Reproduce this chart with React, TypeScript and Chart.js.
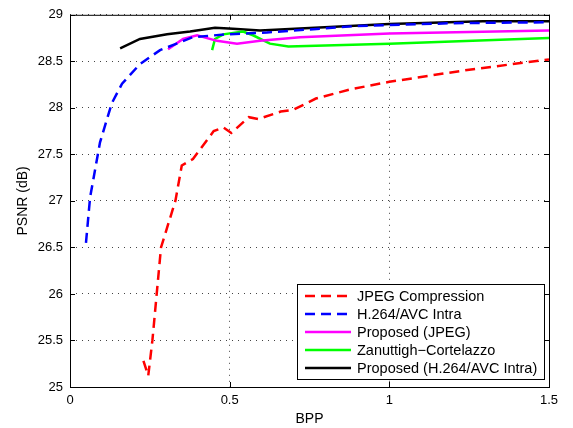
import React, { useEffect, useRef } from "react";
import { Chart, registerables } from "chart.js";
Chart.register(...registerables);

const jpegX = [0.23, 0.245, 0.258, 0.285, 0.33, 0.35, 0.385, 0.45, 0.48, 0.505, 0.56, 0.59, 0.66, 0.7, 0.77, 0.88, 1.0, 1.25, 1.5];
const jpegY = [25.28, 25.12, 25.5, 26.5, 27.0, 27.38, 27.45, 27.75, 27.79, 27.73, 27.9, 27.88, 27.96, 27.98, 28.1, 28.2, 28.28, 28.41, 28.52];

const h264X = [0.05, 0.063, 0.094, 0.131, 0.163, 0.219, 0.282, 0.385, 0.49, 0.617, 0.9, 1.2, 1.5];
const h264Y = [26.55, 27.04, 27.63, 28.05, 28.26, 28.47, 28.62, 28.76, 28.79, 28.81, 28.88, 28.91, 28.92];

const propJpegX = [0.307, 0.354, 0.398, 0.46, 0.523, 0.595, 0.72, 1.0, 1.5];
const propJpegY = [28.63, 28.74, 28.78, 28.72, 28.69, 28.72, 28.76, 28.8, 28.83];

const zanX = [0.445, 0.454, 0.48, 0.542, 0.573, 0.626, 0.684, 1.0, 1.5];
const zanY = [28.62, 28.74, 28.79, 28.82, 28.78, 28.69, 28.66, 28.69, 28.75];

const propH264X = [0.157, 0.219, 0.304, 0.376, 0.454, 0.51, 0.595, 1.0, 1.293, 1.5];
const propH264Y = [28.64, 28.74, 28.79, 28.82, 28.86, 28.85, 28.83, 28.9, 28.93, 28.93];

const xTicks = [0, 0.5, 1, 1.5];
const yTicks = [25, 25.5, 26, 26.5, 27, 27.5, 28, 28.5, 29];

const toPts = (xs: number[], ys: number[]) => xs.map((x, i) => ({ x, y: ys[i] }));

const FONT = "'Liberation Sans', Arial, Helvetica, sans-serif";

const boxPlugin = {
  id: "boxPlugin",
  afterDatasetsDraw(chart: any) {
    const { ctx, chartArea: a, scales } = chart;
    ctx.save();
    ctx.strokeStyle = "#000";
    ctx.lineWidth = 1;
    ctx.setLineDash([]);
    ctx.strokeRect(a.left + 0.5, a.top + 0.5, a.right - a.left, a.bottom - a.top);
    const tl = 5;
    ctx.beginPath();
    for (const v of xTicks) {
      const px = Math.round(scales.x.getPixelForValue(v)) + 0.5;
      ctx.moveTo(px, a.bottom);
      ctx.lineTo(px, a.bottom - tl);
      ctx.moveTo(px, a.top);
      ctx.lineTo(px, a.top + tl);
    }
    for (const v of yTicks) {
      const py = Math.round(scales.y.getPixelForValue(v)) + 0.5;
      ctx.moveTo(a.left, py);
      ctx.lineTo(a.left + tl, py);
      ctx.moveTo(a.right, py);
      ctx.lineTo(a.right - tl, py);
    }
    ctx.stroke();

    const lx = 297, ly = 284, lw = 247, lh = 95;
    ctx.fillStyle = "#fff";
    ctx.fillRect(lx, ly, lw, lh);
    ctx.strokeRect(lx + 0.5, ly + 0.5, lw, lh);
    ctx.font = `14.5px ${FONT}`;
    ctx.textBaseline = "middle";
    ctx.textAlign = "left";
    chart.data.datasets.forEach((ds: any, i: number) => {
      const y = ly + 12 + i * 18;
      ctx.strokeStyle = ds.borderColor;
      ctx.lineWidth = 2.5;
      ctx.setLineDash(ds.borderDash || []);
      ctx.beginPath();
      ctx.moveTo(305, y);
      ctx.lineTo(351, y);
      ctx.stroke();
      ctx.setLineDash([]);
      ctx.fillStyle = "#000";
      ctx.fillText(ds.label, 357, y + 1);
    });
    ctx.restore();
  },
};

export default function App() {
  const ref = useRef<HTMLCanvasElement>(null);
  useEffect(() => {
    document.body.style.margin = "0";
    const mk = (label: string, xs: number[], ys: number[], color: string, dash?: number[]) => ({
      label,
      data: toPts(xs, ys),
      borderColor: color,
      backgroundColor: color,
      borderWidth: 2.5,
      borderDash: dash || [],
      pointRadius: 0,
      tension: 0,
      fill: false,
    });
    const chart = new Chart(ref.current!, {
      type: "line",
      data: {
        datasets: [
          mk("JPEG Compression", jpegX, jpegY, "#ff0000", [10, 6]),
          mk("H.264/AVC Intra", h264X, h264Y, "#0000ff", [10, 6]),
          mk("Proposed (JPEG)", propJpegX, propJpegY, "#ff00ff"),
          mk("Zanuttigh\u2212Cortelazzo", zanX, zanY, "#00ff00"),
          mk("Proposed (H.264/AVC Intra)", propH264X, propH264Y, "#000000"),
        ],
      },
      options: {
        animation: false,
        responsive: false,
        events: [],
        layout: { padding: { left: 0, top: 6, right: 24, bottom: 0 } },
        plugins: { legend: { display: false }, tooltip: { enabled: false } },
        scales: {
          x: {
            type: "linear",
            min: 0,
            max: 1.5,
            afterBuildTicks: (s: any) => { s.ticks = xTicks.map((v) => ({ value: v })); },
            afterFit: (s: any) => { s.height = 41; },
            ticks: { color: "#000", font: { size: 13, family: FONT }, padding: 6, maxRotation: 0, callback: (v: any) => String(v) },
            grid: { color: "#444", lineWidth: 1, drawTicks: false },
            border: { display: false, dash: [1, 5] },
            title: { display: true, text: "BPP", color: "#000", font: { size: 14, family: FONT }, padding: { top: 2, bottom: 0 } },
          },
          y: {
            type: "linear",
            min: 25,
            max: 29,
            afterBuildTicks: (s: any) => { s.ticks = yTicks.map((v) => ({ value: v })); },
            afterFit: (s: any) => { s.width = 70; },
            ticks: { color: "#000", font: { size: 13, family: FONT }, padding: 7, callback: (v: any) => String(v) },
            grid: { color: "#444", lineWidth: 1, drawTicks: false },
            border: { display: false, dash: [1, 5] },
            title: { display: true, text: "PSNR (dB)", color: "#000", font: { size: 14, family: FONT }, padding: { top: 15, bottom: 0 } },
          },
        },
      },
      plugins: [boxPlugin],
    } as any);
    return () => chart.destroy();
  }, []);
  return (
    <div style={{ position: "fixed", left: 0, top: 0, width: 573, height: 428, background: "#fff" }}>
      <canvas ref={ref} width={573} height={428} style={{ width: 573, height: 428 }} />
    </div>
  );
}
